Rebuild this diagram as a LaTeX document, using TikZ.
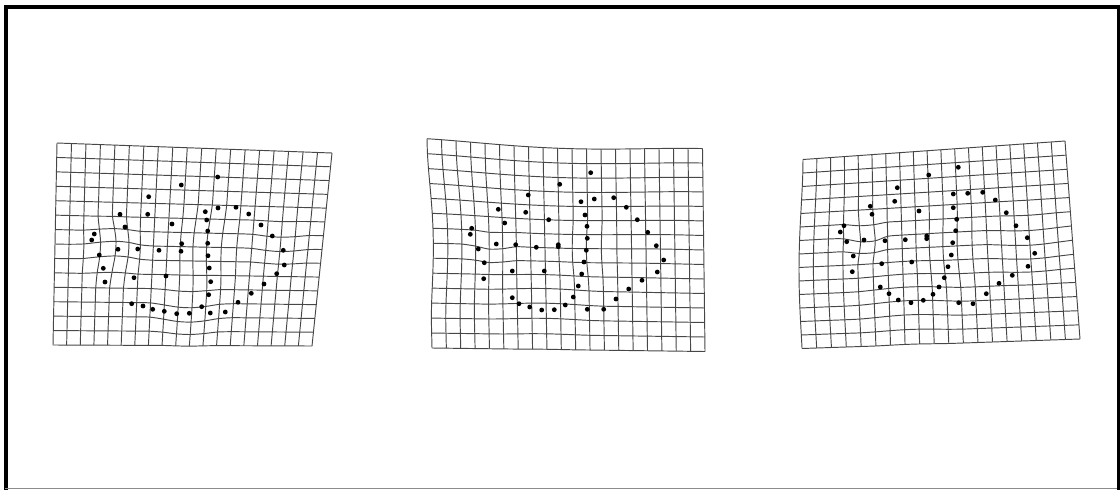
\documentclass[tikz,border=0pt]{standalone}
\usepackage{tikz}
\usetikzlibrary{calc}

% one warped 19x14 mesh, needs wx/wy declared in the scope
\newcommand{\warpgrid}{%
  \foreach \v in {0,...,14}
    \draw[gridline] plot[smooth, samples at={0,...,19}, variable=\u]
      ({wx(\u,\v)},{wy(\u,\v)});
  \foreach \u in {0,...,19}
    \draw[gridline] plot[smooth, samples at={0,...,14}, variable=\v]
      ({wx(\u,\v)},{wy(\u,\v)});
}

\begin{document}
\begin{tikzpicture}[
    x=1pt, y=-1pt,
    gridline/.style={draw=black!72, line width=0.95pt, line join=round},
    dot/.style={fill=black},
    frameline/.style={draw=black, line width=4pt},
    declare function={
      bump(\xa,\ya,\xc,\yc,\rd)=max(0,1-((\xa-\xc)/\rd)*((\xa-\xc)/\rd)
        -((\ya-\yc)/\rd)*((\ya-\yc)/\rd))^2;
    },
]
\useasboundingbox (0,0) rectangle (1120,490);

% ── Frame ──
\draw[frameline] (5.5,490) -- (5.5,7) -- (1118.5,7) -- (1118.5,490);
\draw[black!45, line width=1pt] (5,488.5) -- (1117,488.5);

% ── Left mesh ──
\begin{scope}[declare function={
    ax(\u,\v)=(1-\u/19)*(1-\v/14)*57+(\u/19)*(1-\v/14)*332
      +(\u/19)*(\v/14)*312+(1-\u/19)*(\v/14)*53;
    ay(\u,\v)=(1-\u/19)*(1-\v/14)*143+(\u/19)*(1-\v/14)*153
      +(\u/19)*(\v/14)*346+(1-\u/19)*(\v/14)*345;
    wx(\u,\v)=ax(\u,\v)+5*bump(ax(\u,\v),ay(\u,\v),112,250,38)
      -3*bump(ax(\u,\v),ay(\u,\v),208,245,45);
    wy(\u,\v)=ay(\u,\v)-4*bump(ax(\u,\v),ay(\u,\v),112,250,38)
      +5*bump(ax(\u,\v),ay(\u,\v),188,312,42)
      +3*bump(ax(\u,\v),ay(\u,\v),280,245,35);
  }]
  \warpgrid
\end{scope}
\foreach \p in {(217.7,177),(181.3,185),(148.7,196.7),(120,214.3),
    (147.7,214.3),(205.3,211.7),(218,208),(236,207.3),(248.7,214),
    (206.7,220),(172,224),(125,227),(261,225),(207.7,231),(94.3,234),
    (91.7,240),(272.3,236),(181.7,243.7),(207.7,243.3),(118,249.3),
    (137.7,249),(159,250.3),(181,251.3),(283.3,250.3),(99.3,255),
    (208,255.7),(284.3,265),(103.3,268.3),(209.3,268),(276.7,273.7),
    (134,277.7),(166,276),(105,282),(210.7,281.7),(264,284),
    (208.7,294.7),(251.3,293.3),(238,302.3),(131.7,303.7),(143,306),
    (152.7,309.3),(164.3,311.3),(176.7,313.7),(189.3,313.3),
    (201.7,306.7),(210.3,313),(225.3,312)}
  \fill[dot] \p circle (2.4pt);

% ── Middle mesh ──
\begin{scope}[declare function={
    ax(\u,\v)=(1-\u/19)*(1-\v/14)*427+(\u/19)*(1-\v/14)*702.5
      +(\u/19)*(\v/14)*705+(1-\u/19)*(\v/14)*432;
    ay(\u,\v)=(1-\u/19)*(1-\v/14)*138.5+(\u/19)*(1-\v/14)*148.5
      +(\u/19)*(\v/14)*351.5+(1-\u/19)*(\v/14)*348;
    wx(\u,\v)=ax(\u,\v)+4*bump(ax(\u,\v),ay(\u,\v),440,235,90)
      -2*bump(ax(\u,\v),ay(\u,\v),586,250,40);
    wy(\u,\v)=ay(\u,\v)+5*bump(ax(\u,\v),ay(\u,\v),560,150,150)
      +4*bump(ax(\u,\v),ay(\u,\v),490,248,28)
      -2*bump(ax(\u,\v),ay(\u,\v),545,300,60);
  }]
  \warpgrid
\end{scope}
\foreach \p in {(590.7,172.7),(559.7,184.3),(528.3,195),(581,201.7),
    (594.3,199),(613.7,197.7),(626.3,207.3),(498.3,209.3),(525.7,212.3),
    (585,215),(548.7,219.7),(504.7,223),(637.3,219.7),(587,226.3),
    (471.7,228.3),(470.3,234.3),(647.7,232.3),(587.3,238.3),(496.3,244),
    (515.7,244.7),(536.3,247.3),(558.3,244.7),(558.3,246.7),
    (656.3,245.7),(478.3,249),(586.3,250.3),(663.7,260),(484.3,262.7),
    (584,262),(512.3,271),(544.3,271),(581.7,274),(657.3,272),
    (483.7,278.7),(642,280.3),(578.3,286),(628.7,289),(573.3,297),
    (616,299),(512.3,297.7),(519,303.7),(529.7,307),(541.7,310),
    (554.3,309.7),(565.3,305),(587.3,309.3),(603.7,309.3)}
  \fill[dot] \p circle (2.4pt);

% ── Right mesh ──
\begin{scope}[declare function={
    ax(\u,\v)=(1-\u/19)*(1-\v/14)*803+(\u/19)*(1-\v/14)*1065
      +(\u/19)*(\v/14)*1080+(1-\u/19)*(\v/14)*803;
    ay(\u,\v)=(1-\u/19)*(1-\v/14)*159.5+(\u/19)*(1-\v/14)*141
      +(\u/19)*(\v/14)*339+(1-\u/19)*(\v/14)*348.5;
    wx(\u,\v)=ax(\u,\v)-4*bump(ax(\u,\v),ay(\u,\v),800,270,110)
      +3*bump(ax(\u,\v),ay(\u,\v),866,238,26)
      -2*bump(ax(\u,\v),ay(\u,\v),950,250,45);
    wy(\u,\v)=ay(\u,\v)+5*bump(ax(\u,\v),ay(\u,\v),866,238,26)
      -3*bump(ax(\u,\v),ay(\u,\v),910,300,60)
      +3*bump(ax(\u,\v),ay(\u,\v),1030,245,50);
  }]
  \warpgrid
\end{scope}
\foreach \p in {(958.3,167.3),(928.7,175),(897.3,187.7),(953.3,194),
    (967.7,193.3),(982.7,192.3),(995.3,200),(894.7,201.3),(870.3,206.3),
    (953.3,207.7),(919,211),(872,214.3),(1006.3,212.7),(956.7,219.3),
    (1016,225.7),(844,225.7),(840.3,232),(955.7,230.7),(926.7,236),
    (926.7,238.7),(1027.3,237.7),(864,240),(885,240.7),(905.3,239.7),
    (846.7,241.7),(952.7,242.7),(1034.7,253.3),(853.3,256),(951.3,255),
    (881.7,263.7),(911.7,262),(1028,266.3),(852.3,271.7),(948,266.7),
    (1012.3,275.3),(944.3,277.7),(999,283.3),(880.3,287),(939,287),
    (889,293.7),(933,294.3),(986.3,293.7),(898.3,300),(911,302.7),
    (923.3,300.3),(958.7,302.7),(973,303.7)}
  \fill[dot] \p circle (2.4pt);

\end{tikzpicture}
\end{document}
